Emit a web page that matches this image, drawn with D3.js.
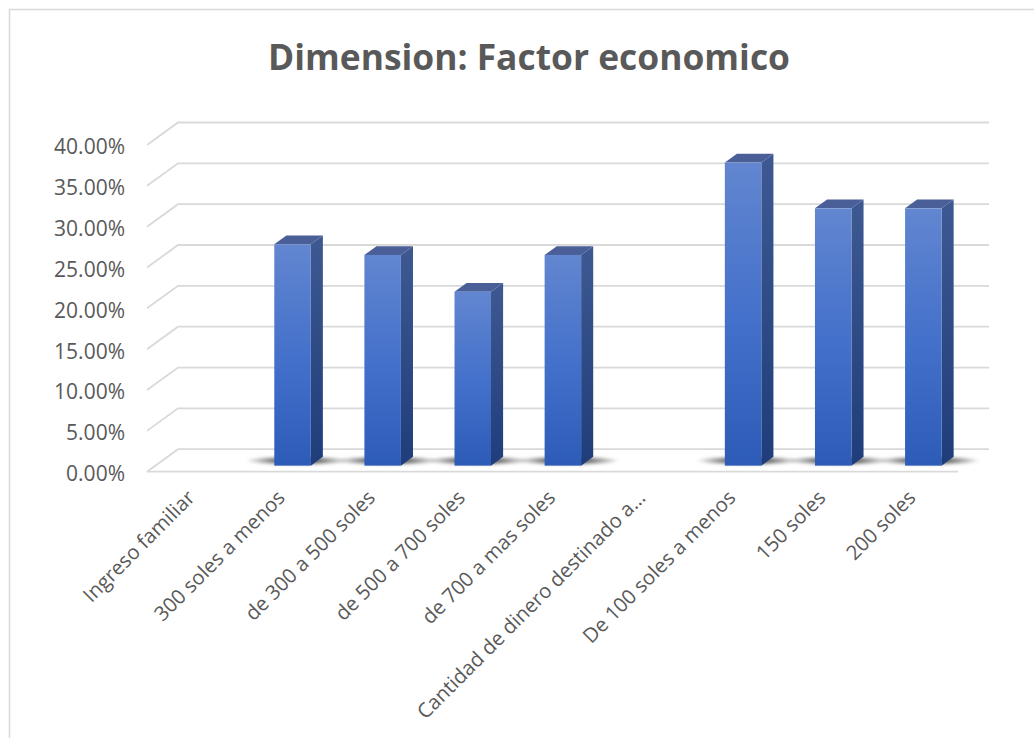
<!DOCTYPE html>
<html>
<head>
<meta charset="utf-8">
<script src="https://cdn.jsdelivr.net/npm/d3@7"></script>
<style>
  body { margin: 0; background: #fff; }
  text { font-family: "Open Sans", sans-serif; fill: #595959; }
</style>
</head>
<body>
<svg id="chart" width="1034" height="738"></svg>
<script>
var categories = ["Ingreso familiar", "300 soles a menos", "de 300 a 500 soles", "de 500 a 700 soles",
    "de 700 a mas soles", "Cantidad de dinero destinado a…", "De 100 soles a menos", "150 soles", "200 soles"];
var values = [null, 0.271, 0.258, 0.213, 0.258, null, 0.371, 0.315, 0.315];
var yTicks = [0, 0.05, 0.10, 0.15, 0.20, 0.25, 0.30, 0.35, 0.40];
var title = "Dimension: Factor economico";

var svg = d3.select("#chart");

// depth offsets of the 3d box (front -> back wall)
var DX = 31, DY = 22.5;
var t0 = 0.27, t1 = 0.66;   // bar depth range

var x = d3.scaleBand().domain(categories).range([147, 958]);
var y = d3.scaleLinear().domain([0, 0.4]).range([471.7, 145]);

function px(xf, t) { return xf + t * DX; }
function py(v, t) { return y(v) - t * DY; }

// chart frame
svg.append("rect")
    .attr("x", 9.5).attr("y", 9.5)
    .attr("width", 1040).attr("height", 740)
    .style("fill", "none").style("stroke", "#d9d9d9").style("stroke-width", 1.5);

svg.append("text")
    .attr("x", 529).attr("y", 70)
    .attr("text-anchor", "middle")
    .attr("textLength", 522).attr("lengthAdjust", "spacingAndGlyphs")
    .style("font-size", "36px").style("font-weight", "bold")
    .text(title);

var defs = svg.append("defs");
var gFront = defs.append("linearGradient").attr("id", "gFront").attr("x1", 0).attr("y1", 0).attr("x2", 0).attr("y2", 1);
gFront.append("stop").attr("offset", "0%").attr("stop-color", "#6286d0");
gFront.append("stop").attr("offset", "55%").attr("stop-color", "#416fca");
gFront.append("stop").attr("offset", "100%").attr("stop-color", "#2d5cb8");
var gSide = defs.append("linearGradient").attr("id", "gSide").attr("x1", 0).attr("y1", 0).attr("x2", 0).attr("y2", 1);
gSide.append("stop").attr("offset", "0%").attr("stop-color", "#3e5992");
gSide.append("stop").attr("offset", "100%").attr("stop-color", "#1f3d7a");
var gShadow = defs.append("radialGradient").attr("id", "gShadow");
gShadow.append("stop").attr("offset", "0%").attr("stop-color", "#000").attr("stop-opacity", 0.9);
gShadow.append("stop").attr("offset", "45%").attr("stop-color", "#000").attr("stop-opacity", 0.55);
gShadow.append("stop").attr("offset", "100%").attr("stop-color", "#000").attr("stop-opacity", 0);
defs.append("filter").attr("id", "blur").attr("x", "-50%").attr("y", "-200%").attr("width", "200%").attr("height", "500%")
    .append("feGaussianBlur").attr("stdDeviation", 1.5);

// gridlines: left diagonal + back wall line
var grid = svg.append("g").attr("class", "grid")
    .style("stroke", "#d9d9d9").style("stroke-width", 1.8).style("fill", "none");
grid.selectAll("path").data(yTicks).enter().append("path")
    .attr("d", function(d) {
        return "M" + px(147, 0) + "," + py(d, 0) +
            "L" + px(147, 1) + "," + py(d, 1) +
            "L" + px(958, 1) + "," + py(d, 1);
    });
grid.append("line")
    .attr("x1", 147).attr("x2", 958)
    .attr("y1", y(0)).attr("y2", y(0));

// y labels
svg.append("g").selectAll("text").data(yTicks).enter().append("text")
    .attr("x", 125).attr("y", function(d) { return y(d) + 2; })
    .attr("dy", "0.35em")
    .attr("text-anchor", "end")
    .style("font-size", "21px")
    .text(function(d) { return d3.format(".2%")(d); });

var barData = categories.map(function(c, i) { return { cat: c, v: values[i] }; })
    .filter(function(d) { return d.v != null; });
var bw = 36.5;
function bx(d) { return x(d.cat) + x.bandwidth() / 2 + 2 - bw / 2; }

// floor shadows
svg.append("g").selectAll("ellipse").data(barData).enter().append("ellipse")
    .attr("cx", function(d) { return px(bx(d) + bw / 2 + 5, t0); })
    .attr("cy", py(0, t0) - 5)
    .attr("rx", 52).attr("ry", 5)
    .style("fill", "url(#gShadow)")
    .attr("filter", "url(#blur)");

var bars = svg.append("g").selectAll("g").data(barData).enter().append("g");

// side face
bars.append("path")
    .attr("d", function(d) {
        var xr = bx(d) + bw;
        return "M" + px(xr, t0) + "," + py(0, t0) +
            "L" + px(xr, t1) + "," + py(0, t1) +
            "L" + px(xr, t1) + "," + py(d.v, t1) +
            "L" + px(xr, t0) + "," + py(d.v, t0) + "Z";
    })
    .style("fill", "url(#gSide)");

// top face
bars.append("path")
    .attr("d", function(d) {
        var xl = bx(d), xr = xl + bw;
        return "M" + px(xl, t0) + "," + py(d.v, t0) +
            "L" + px(xl, t1) + "," + py(d.v, t1) +
            "L" + px(xr, t1) + "," + py(d.v, t1) +
            "L" + px(xr, t0) + "," + py(d.v, t0) + "Z";
    })
    .style("fill", "#4a5f97");

// front face
bars.append("rect")
    .attr("x", function(d) { return px(bx(d), t0); })
    .attr("y", function(d) { return py(d.v, t0); })
    .attr("width", bw)
    .attr("height", function(d) { return py(0, t0) - py(d.v, t0); })
    .style("fill", "url(#gFront)");

// category labels
svg.append("g").selectAll("text").data(categories).enter().append("text")
    .attr("transform", function(d) {
        return "translate(" + (x(d) + x.bandwidth() / 2 + 4) + ",499) rotate(-45)";
    })
    .attr("text-anchor", "end")
    .style("font-size", "20.3px")
    .text(function(d) { return d; });
</script>
</body>
</html>
